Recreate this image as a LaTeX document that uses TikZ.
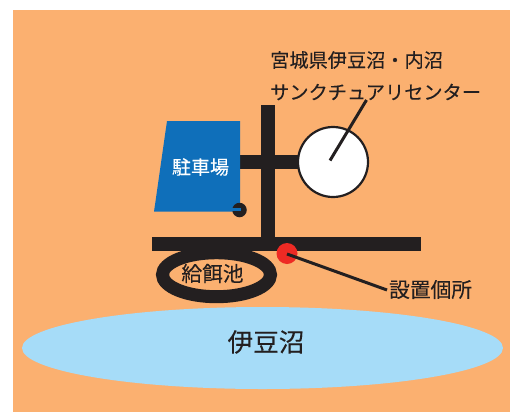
\documentclass[tikz,border=0pt]{standalone}
\usepackage{fontspec}
\setmainfont[FakeBold=0.15,AutoFakeBold=0.15]{Noto Sans CJK JP}
\usetikzlibrary{shapes.geometric}
\definecolor{landc}{HTML}{FBB070}
\definecolor{pondc}{HTML}{A6DCF8}
\definecolor{parkc}{HTML}{0F6FBA}
\definecolor{inkc}{HTML}{231F20}
\definecolor{redc}{HTML}{EE2A24}
\tikzset{
  x=1pt,y=-1pt,
  road/.style={fill=inkc,draw=none},
  leader/.style={draw=inkc,line width=3pt},
  lbl/.style={inner sep=0pt,text=inkc,font=\fontsize{19.2pt}{19.2pt}\selectfont\bfseries,anchor=west},
  lblb/.style={lbl,font=\fontsize{20.7pt}{20.7pt}\selectfont\bfseries},
}
\begin{document}
\begin{tikzpicture}
\useasboundingbox (0,0) rectangle (510,412);
\fill[landc] (13,10) rectangle (510,412);
% pond
\node[ellipse,fill=pondc,draw=none,minimum width=481pt,minimum height=82pt,inner sep=0pt] (pond) at (262.5,348) {};
\node[inner sep=0pt,text=inkc,font=\fontsize{25.6pt}{25.6pt}\selectfont\bfseries] (pondt) at (266,342) {伊豆沼};
% feeding pond
\node[ellipse,draw=inkc,line width=13pt,fill=landc,minimum width=108pt,minimum height=44pt,inner sep=0pt,outer sep=0pt] (feed) at (216.5,274.7) {};
\node[lblb,anchor=center] (feedt) at (212.5,273.5) {給餌池};
% roads
\fill[road] (261,105) rectangle (275,245);
\fill[road] (152,236.7) rectangle (421,250.7);
\fill[road] (238,155) rectangle (300,169);
% parking
\fill[parkc] (167,121) -- (240,121) -- (240,211.7) -- (154,211.7) -- cycle;
\node[circle,fill=inkc,draw=none,minimum size=14.5pt,inner sep=0pt] (dot) at (239.5,210) {};
\fill[parkc] (231,207.5) rectangle (241,211.2);
\node[inner sep=0pt,text=white,font=\fontsize{19pt}{19pt}\selectfont\bfseries] (parkt) at (200.5,167) {駐車場};
% sanctuary
\node[circle,draw=inkc,fill=white,line width=2.2pt,minimum size=70pt,inner sep=0pt] (sanc) at (333,162) {};
\coordinate (sancc) at (330,160.5);
\node[lbl] (t1) at (270,60) {宮城県伊豆沼・内沼};
\node[lbl] (t2) at (270,92) {サンクチュアリセンター};
\coordinate (t2end) at (366.5,100);
\draw[leader] (sancc) -- (t2end);
% site
\node[circle,fill=redc,draw=none,minimum size=21pt,inner sep=0pt] (site) at (287,253.5) {};
\node[lblb] (sitet) at (389,289.5) {設置個所};
\coordinate (sitee) at (387,290);
\coordinate (sitec) at (287,254);
\draw[leader] (sitec) -- (sitee);
\end{tikzpicture}
\end{document}
